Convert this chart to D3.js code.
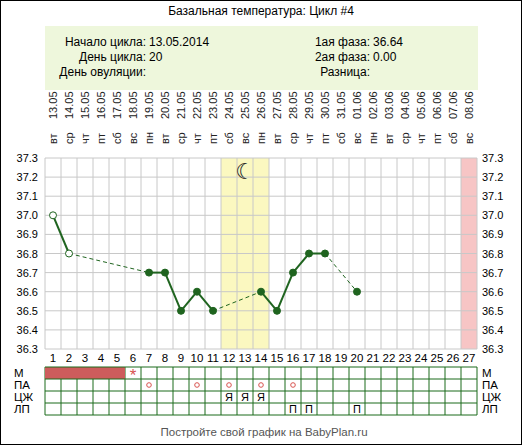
<!DOCTYPE html><html><head><meta charset="utf-8"><script src="https://cdn.jsdelivr.net/npm/d3@7"></script>
<style>body{margin:0;background:#fff}svg{display:block;font-family:Arial,"Liberation Sans",sans-serif}</style></head><body><svg id="c" width="522" height="445"></svg><script>
const dates=["13.05","14.05","15.05","16.05","17.05","18.05","19.05","20.05","21.05","22.05","23.05","24.05","25.05","26.05","27.05","28.05","29.05","30.05","31.05","01.06","02.06","03.06","04.06","05.06","06.06","07.06","08.06"];
const weekdays=["вт","ср","чт","пт","сб","вс","пн","вт","ср","чт","пт","сб","вс","пн","вт","ср","чт","пт","сб","вс","пн","вт","ср","чт","пт","сб","вс"];
const tempDays=[1,2,7,8,9,10,11,14,15,16,17,18,20];
const temps=[37.0,36.8,36.7,36.7,36.5,36.6,36.5,36.6,36.5,36.7,36.8,36.8,36.6];
const openDays=[1,2];
const yTicks=[36.3,36.4,36.5,36.6,36.7,36.8,36.9,37.0,37.1,37.2,37.3];
const ovulationDays=[12,13,14];
const nextCycleDay=27;
const mensDays=[1,2,3,4,5];
const starDays=[6];
const paDays=[7,10,12,14,16];
const czhDays=[12,13,14];
const lpDays=[16,17,20];
const rowLabels=["М","ПА","ЦЖ","ЛП"];
const svg=d3.select("#c");
const L=45,R=477,T=158,B=349,N=27;
const x=d3.scaleBand().domain(d3.range(1,N+1)).range([L,R]);
const cx=d=>x(d)+x.bandwidth()/2;
const y=d3.scaleLinear().domain([36.3,37.3]).range([B,T]);
svg.append("rect").attr("x",0.5).attr("y",0.5).attr("width",521).attr("height",444).attr("fill","#fff").attr("stroke","#000");
svg.append("text").attr("x",261).attr("y",15).attr("text-anchor","middle").attr("font-size",12).text("Базальная температура: Цикл #4");
svg.append("rect").attr("x",45).attr("y",26).attr("width",433).attr("height",64).attr("fill","#eef7dc");
const info=[["Начало цикла:","13.05.2014",146,46],["День цикла:","20",146,61],["День овуляции:","",146,76],["1ая фаза:","36.64",370,46],["2ая фаза:","0.00",370,61],["Разница:","",370,76]];
info.forEach(([l,v,xx,yy])=>{svg.append("text").attr("x",xx).attr("y",yy).attr("text-anchor","end").attr("font-size",12).text(l);
 svg.append("text").attr("x",xx+3).attr("y",yy).attr("font-size",12).text(v);});
d3.range(1,N+1).forEach((d,i)=>{
 svg.append("text").attr("transform",`translate(${cx(d)+4},${144}) rotate(-90)`).attr("font-size",11).attr("fill","#222").text(weekdays[i]);
 svg.append("text").attr("transform",`translate(${cx(d)+4},${119}) rotate(-90)`).attr("font-size",11).attr("fill","#222").text(dates[i]);
});
ovulationDays.forEach(d=>svg.append("rect").attr("x",x(d)).attr("y",T).attr("width",x.bandwidth()).attr("height",B-T).attr("fill","#fbf8c0"));
svg.append("rect").attr("x",x(nextCycleDay)).attr("y",T).attr("width",x.bandwidth()).attr("height",B-T).attr("fill","#f7c5c5");
yTicks.forEach(v=>svg.append("line").attr("x1",L).attr("x2",R).attr("y1",y(v)).attr("y2",y(v)).attr("stroke","#c8c8c8"));
d3.range(0,N+1).forEach(i=>{const xx=i<N?x(i+1):R;svg.append("line").attr("x1",xx).attr("x2",xx).attr("y1",T).attr("y2",B).attr("stroke","#c8c8c8");});
yTicks.forEach(v=>{
 svg.append("text").attr("x",L-7).attr("y",y(v)+4).attr("text-anchor","end").attr("font-size",11).text(v.toFixed(1));
 svg.append("text").attr("x",R+5).attr("y",y(v)+4).attr("font-size",11).text(v.toFixed(1));
});
d3.range(1,N+1).forEach(d=>svg.append("text").attr("x",cx(d)).attr("y",362).attr("text-anchor","middle").attr("font-size",11.5).text(d));
svg.append("text").attr("x",cx(13)).attr("y",179).attr("text-anchor","middle").attr("font-size",22).attr("font-family","DejaVu Sans").attr("fill","#222").text("☾");
const col="#1f641f";
for(let i=0;i<tempDays.length-1;i++){
 const dashed=tempDays[i+1]-tempDays[i]>1;
 svg.append("line").attr("x1",cx(tempDays[i])).attr("y1",y(temps[i])).attr("x2",cx(tempDays[i+1])).attr("y2",y(temps[i+1]))
  .attr("stroke",col).attr("stroke-width",dashed?1:2).attr("stroke-dasharray",dashed?"4,3":null);
}
tempDays.forEach((d,i)=>{const o=openDays.includes(d);svg.append("circle").attr("cx",cx(d)).attr("cy",y(temps[i])).attr("r",3.5).attr("fill",o?"#fff":col).attr("stroke",col).attr("stroke-width",1);});
const gT=367,rh=12;
d3.range(0,N+1).forEach(i=>{const xx=i<N?x(i+1):R;svg.append("line").attr("x1",xx).attr("x2",xx).attr("y1",gT).attr("y2",gT+4*rh).attr("stroke","#1a6b1a");});
const m0=d3.min(mensDays),m1=d3.max(mensDays);
svg.append("rect").attr("x",x(m0)).attr("y",gT).attr("width",x(m1)+x.bandwidth()-x(m0)).attr("height",rh).attr("fill","#cd5c5c");
for(let r=0;r<=4;r++)svg.append("line").attr("x1",L).attr("x2",R).attr("y1",gT+r*rh).attr("y2",gT+r*rh).attr("stroke","#1a6b1a");
rowLabels.forEach((t,r)=>{svg.append("text").attr("x",14).attr("y",gT+r*rh+10).attr("font-size",11.5).text(t);svg.append("text").attr("x",482).attr("y",gT+r*rh+10).attr("font-size",11.5).text(t);});
starDays.forEach(d=>svg.append("text").attr("x",cx(d)).attr("y",gT+14).attr("text-anchor","middle").attr("font-size",17).attr("fill","#d9534f").text("*"));
paDays.forEach(d=>svg.append("circle").attr("cx",cx(d)).attr("cy",gT+rh+6).attr("r",2.3).attr("fill","none").attr("stroke","#d9534f"));
czhDays.forEach(d=>svg.append("text").attr("x",cx(d)).attr("y",gT+2*rh+10).attr("text-anchor","middle").attr("font-size",11).text("Я"));
lpDays.forEach(d=>svg.append("text").attr("x",cx(d)).attr("y",gT+3*rh+10).attr("text-anchor","middle").attr("font-size",11).text("П"));
svg.append("text").attr("x",264).attr("y",436).attr("text-anchor","middle").attr("font-size",11.5).attr("fill","#555").text("Постройте свой график на BabyPlan.ru");
</script></body></html>
